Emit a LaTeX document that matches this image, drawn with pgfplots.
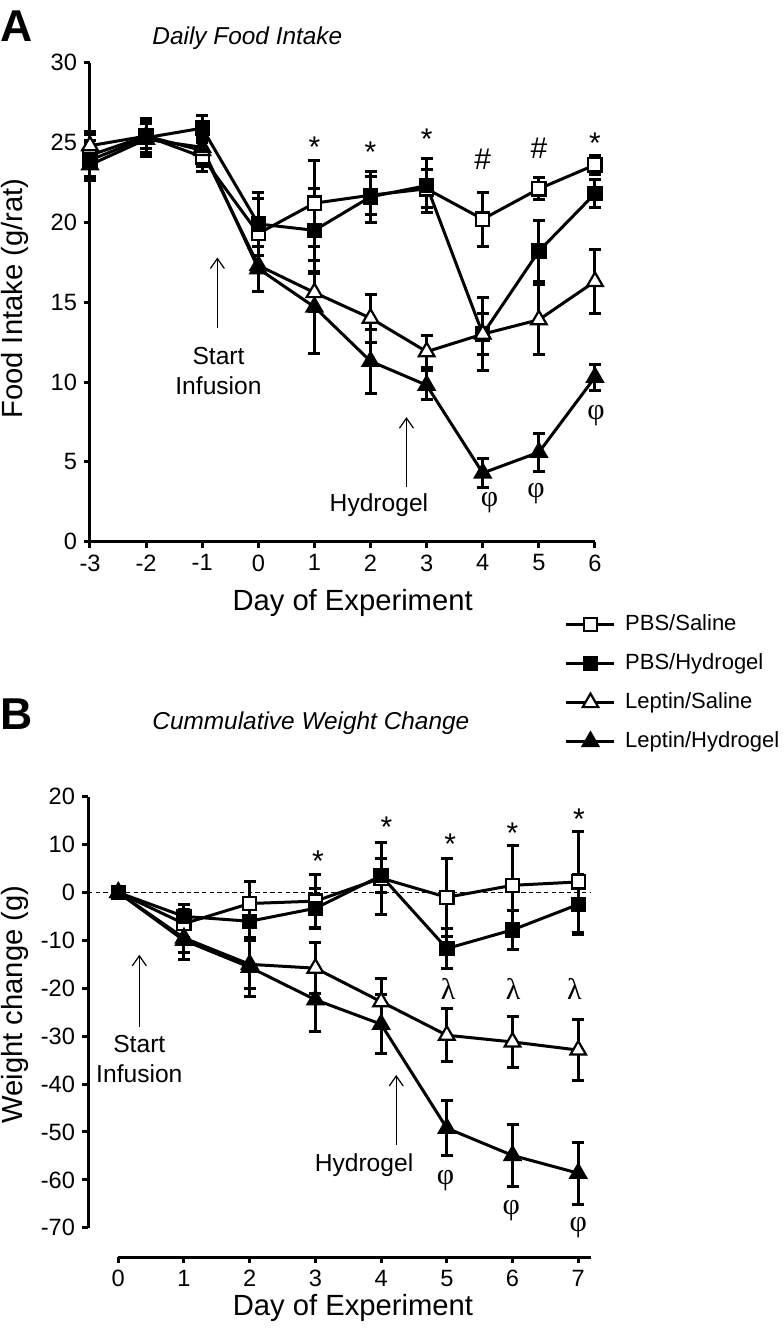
\documentclass[border=0pt]{standalone}
\usepackage{fontspec}
\setmainfont{Liberation Sans}
\newfontfamily\greekfont{Liberation Serif}
\usepackage{pgfplots}
\usepackage{pgfplotstable}
\pgfplotsset{compat=1.18}
\usetikzlibrary{arrows.meta}

\pgfplotstableread{
x y e
-3 24.2 1.3
-2 25.4 1.0
-1 24.1 0.9
0 19.3 2.2
1 21.2 2.7
2 21.7 1.2
3 22.1 1.2
4 20.2 1.7
5 22.1 0.7
6 23.6 0.6
}\AS
\pgfplotstableread{
x y e
-3 23.9 1.2
-2 25.3 1.2
-1 25.9 0.8
0 19.9 2.0
1 19.5 2.6
2 21.6 1.6
3 22.3 1.7
4 13.0 2.3
5 18.2 1.9
6 21.8 0.9
}\AH
\pgfplotstableread{
x y e
-3 24.8 0.9
-2 25.4 0.8
-1 24.5 0.8
0 17.3 1.6
1 15.6 1.2
2 14.0 1.5
3 11.9 1.0
4 13.0 1.3
5 13.9 2.2
6 16.3 2.0
}\ALS
\pgfplotstableread{
x y e
-3 23.6 1.0
-2 25.2 1.0
-1 24.7 1.2
0 17.1 1.4
1 14.7 2.9
2 11.3 2.0
3 9.8 0.9
4 4.3 0.9
5 5.6 1.2
6 10.3 0.8
}\ALH
\pgfplotstableread{
x y e
0 0 0.5
1 -6.5 3.0
2 -2.3 4.5
3 -1.8 5.6
4 3.0 7.5
5 -1.0 8.1
6 1.5 8.4
7 2.2 10.6
}\BS
\pgfplotstableread{
x y e
0 0 0.5
1 -5.0 2.5
2 -6.0 4.0
3 -3.3 4.2
4 3.5 3.5
5 -11.7 4.2
6 -7.8 4.1
7 -2.5 6.2
}\BH
\pgfplotstableread{
x y e
0 0 0.5
1 -9.5 3.0
2 -15.0 5.0
3 -15.8 5.3
4 -22.8 4.9
5 -29.8 5.5
6 -31.2 5.3
7 -32.9 6.3
}\BLS
\pgfplotstableread{
x y e
0 0 0.5
1 -10.0 4.0
2 -15.6 6.2
3 -22.4 6.6
4 -27.5 6.2
5 -49.2 5.8
6 -54.9 6.4
7 -58.6 6.5
}\BLH

\newcommand{\annf}{\fontsize{15}{15}\selectfont}
\newcommand{\grf}{\greekfont\fontsize{15}{15}\selectfont}
\newcommand{\txf}{\fontsize{12.3}{15}\selectfont}

\pgfplotsset{
 myaxis/.style={
  scale only axis, axis lines=left,
  axis line style={line width=1.5pt,-},
  tick style={line width=1.5pt, black},
  major tick length=3pt, tick align=outside,
  clip=false,
  cycle list={{black, line width=1.5pt}},
  /pgf/number format/assume math mode=true,
  ticklabel style={font=\fontsize{11.8}{13}\selectfont},
  label style={font=\fontsize{14.6}{17}\selectfont},
  error bars/y dir=both, error bars/y explicit,
  error bars/error bar style={line width=1.5pt, black},
  error bars/error mark options={rotate=90, mark size=3pt, line width=1.5pt, black},
 },
 sA/.style={black, line width=1.5pt, mark=square*, mark options={fill=white, draw=black, line width=1.1pt, solid, mark size=3.3pt}},
 sB/.style={black, line width=1.5pt, mark=square*, mark options={fill=black, draw=black, line width=1.1pt, solid, mark size=3.3pt}},
 sC/.style={black, line width=1.5pt, mark=triangle*, mark options={fill=white, draw=black, line width=1.1pt, solid, mark size=4.5pt}},
 sD/.style={black, line width=1.5pt, mark=triangle*, mark options={fill=black, draw=black, line width=1.1pt, solid, mark size=4.5pt}},
}

\begin{document}
\begin{tikzpicture}
\useasboundingbox (0,0) rectangle (391.5pt,668pt);

% ---------------- Panel A ----------------
\begin{axis}[myaxis,
  at={(45pt,397.15pt)}, anchor=south west,
  width=252.5pt, height=239.5pt,
  xmin=-3, xmax=6, ymin=0, ymax=30,
  xtick={-3,...,6}, ytick={0,5,...,30},
  xlabel={Day of Experiment},
  ylabel={Food Intake (g/rat)},
  xlabel style={at={(axis description cs:0.52,-0.1274)}, anchor=center},
  ylabel style={at={(axis description cs:-0.1485,0.5075)}, anchor=center},
  legend style={at={(axis description cs:0.9406,-0.151)}, anchor=north west,
    draw=none, fill=none, inner sep=0pt, outer sep=0pt,
    row sep=8.9pt, font=\fontsize{11}{13}\selectfont,
    nodes={inner sep=0pt, text height=8.2pt, text depth=2.4pt},
    /tikz/every odd column/.append style={column sep=4.6pt}},
  legend cell align=left,
  legend image code/.code={\draw[mark repeat=2,mark phase=2] plot coordinates {(0pt,0pt) (12pt,0pt) (24pt,0pt)};},
]
\addplot[sA] table[x=x,y=y,y error=e] {\AS};
\addlegendentry{PBS/Saline}
\addplot[sB] table[x=x,y=y,y error=e] {\AH};
\addlegendentry{PBS/Hydrogel}
\addplot[sC] table[x=x,y=y,y error=e] {\ALS};
\addlegendentry{Leptin/Saline}
\addplot[sD] table[x=x,y=y,y error=e] {\ALH};
\addlegendentry{Leptin/Hydrogel}

% annotations
\node[anchor=north, inner sep=0pt, font=\annf] at (axis cs:1,25.36) {*};
\node[anchor=north, inner sep=0pt, font=\annf] at (axis cs:2,25.05) {*};
\node[anchor=north, inner sep=0pt, font=\annf] at (axis cs:3,25.9) {*};
\node[anchor=north, inner sep=0pt, font=\annf] at (axis cs:6,25.6) {*};
\node[anchor=north, inner sep=0pt, font=\annf] at (axis cs:4,24.6) {\#};
\node[anchor=north, inner sep=0pt, font=\annf] at (axis cs:5,25.3) {\#};
\node[anchor=north, inner sep=0pt, font=\grf] at (axis cs:4.12,3.13) {φ};
\node[anchor=north, inner sep=0pt, font=\grf] at (axis cs:4.95,3.66) {φ};
\node[anchor=north, inner sep=0pt, font=\grf] at (axis cs:6.02,8.56) {φ};
\draw[line width=0.6pt, -{Straight Barb[length=5pt,width=7pt]}] (axis cs:-0.73,13.4) -- (axis cs:-0.73,17.8);
\node[anchor=north, inner sep=0pt, align=center, font=\txf] at (axis cs:-0.71,12.21) {Start\\Infusion};
\draw[line width=0.6pt, -{Straight Barb[length=5pt,width=7pt]}] (axis cs:2.64,3.4) -- (axis cs:2.64,7.8);
\node[anchor=north, inner sep=0pt, font=\txf] at (axis cs:2.15,3.03) {Hydrogel};
\end{axis}

% ---------------- Panel B ----------------
\begin{axis}[myaxis,
  at={(44pt,39.5pt)}, anchor=south west,
  width=251.35pt, height=230.15pt,
  xmin=-0.461, xmax=7.19, ymin=-76.1, ymax=20,
  xtick={0,...,7}, ytick={-70,-60,...,20},
  x axis line style={shorten <=15.15pt},
  y axis line style={shorten <=14.65pt},
  xlabel={Day of Experiment},
  ylabel={Weight change (g)},
  xlabel style={at={(axis description cs:0.527,-0.1108)}, anchor=center},
  ylabel style={at={(axis description cs:-0.145,0.5486)}, anchor=center},
]
\draw[line width=0.6pt, dash pattern=on 2.2pt off 1.6pt] (axis cs:-0.461,0) -- (axis cs:7.19,0);
\addplot[sA] table[x=x,y=y,y error=e] {\BS};
\addplot[sB] table[x=x,y=y,y error=e] {\BH};
\addplot[sC] table[x=x,y=y,y error=e] {\BLS};
\addplot[sD] table[x=x,y=y,y error=e] {\BLH};

\node[anchor=north, inner sep=0pt, font=\annf] at (axis cs:3.04,8.87) {*};
\node[anchor=north, inner sep=0pt, font=\annf] at (axis cs:4.08,15.8) {*};
\node[anchor=north, inner sep=0pt, font=\annf] at (axis cs:5.05,12.4) {*};
\node[anchor=north, inner sep=0pt, font=\annf] at (axis cs:6.0,14.6) {*};
\node[anchor=north, inner sep=0pt, font=\annf] at (axis cs:7.01,17.6) {*};
\node[anchor=north, inner sep=0pt, font=\grf] at (axis cs:5.02,-17.9) {λ};
\node[anchor=north, inner sep=0pt, font=\grf] at (axis cs:6.01,-17.9) {λ};
\node[anchor=north, inner sep=0pt, font=\grf] at (axis cs:6.94,-17.9) {λ};
\node[anchor=north, inner sep=0pt, font=\grf] at (axis cs:4.98,-57.9) {φ};
\node[anchor=north, inner sep=0pt, font=\grf] at (axis cs:5.98,-64.2) {φ};
\node[anchor=north, inner sep=0pt, font=\grf] at (axis cs:7.0,-67.7) {φ};
\draw[line width=0.6pt, -{Straight Barb[length=5pt,width=7pt]}] (axis cs:0.32,-28) -- (axis cs:0.32,-13);
\node[anchor=north, inner sep=0pt, align=center, font=\txf] at (axis cs:0.32,-29.75) {Start\\Infusion};
\draw[line width=0.6pt, -{Straight Barb[length=5pt,width=7pt]}] (axis cs:4.23,-52.7) -- (axis cs:4.23,-38.1);
\node[anchor=north, inner sep=0pt, font=\txf] at (axis cs:3.74,-54.5) {Hydrogel};
\end{axis}

% titles and panel letters
\node[anchor=base west, inner sep=0pt, font=\fontsize{22.3}{24}\selectfont\bfseries] at (0pt,647pt) {A};
\node[anchor=base west, inner sep=0pt, font=\fontsize{22.3}{24}\selectfont\bfseries] at (0pt,303pt) {B};
\node[anchor=base west, inner sep=0pt, font=\fontsize{12.2}{14}\selectfont\itshape] at (76pt,645.5pt) {Daily Food Intake};
\node[anchor=base west, inner sep=0pt, font=\fontsize{12.2}{14}\selectfont\itshape] at (76pt,303pt) {Cummulative Weight Change};
\end{tikzpicture}
\end{document}
